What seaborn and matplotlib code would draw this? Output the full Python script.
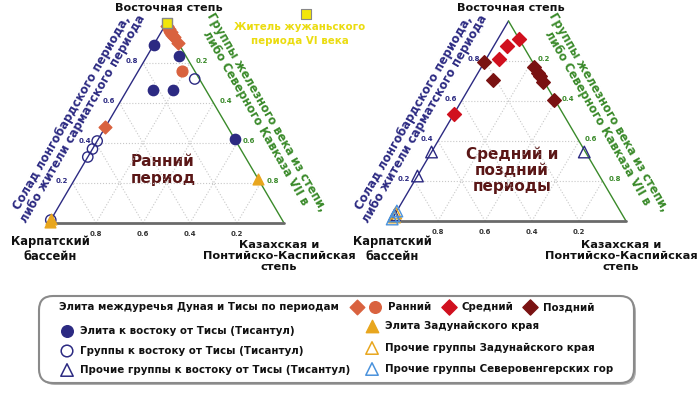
import numpy as np
import pandas as pd
import matplotlib.pyplot as plt
import seaborn as sns
from matplotlib.patches import FancyBboxPatch

sns.set_theme(style="white")
plt.rcParams['font.family'] = ['DejaVu Sans']

# ==============================================================
# DATA  (top = Восточная степь, right = Казахская / Понтийско-Каспийская степь,
#        the rest = Карпатский бассейн)
# ==============================================================

# --- early period panel
early_diamond_top = [0.985, 0.97, 0.955, 0.94, 0.93, 0.90, 0.48]
early_diamond_right = [0.01, 0.025, 0.04, 0.055, 0.065, 0.10, 0.0]
early_circle_top = [0.965, 0.76]
early_circle_right = [0.03, 0.185]
east_elite_top = [0.89, 0.835, 0.665, 0.665, 0.42]
east_elite_right = [0.0, 0.135, 0.11, 0.195, 0.58]
east_groups_top = [0.72, 0.41, 0.37, 0.33, 0.015]
east_groups_right = [0.26, 0.0, 0.0, 0.0, 0.0]
trans_elite_top = [0.22, 0.005, 0.02]
trans_elite_right = [0.78, 0.0, 0.0]
zhuzhan_top = [1.0]
zhuzhan_right = [0.0]

# --- middle / late period panel
middle_top = [0.91, 0.875, 0.81, 0.535]
middle_right = [0.09, 0.055, 0.055, 0.0]
late_top = [0.795, 0.705, 0.77, 0.74, 0.725, 0.695, 0.605]
late_right = [0.0, 0.08, 0.225, 0.255, 0.27, 0.30, 0.39]
east_other_top = [0.345, 0.225, 0.345, 0.03]
east_other_right = [0.0, 0.0, 0.65, 0.0]
trans_other_top = [0.04, 0.02]
trans_other_right = [0.0, 0.005]
north_hu_top = [0.01, 0.05, 0.025]
north_hu_right = [0.0, 0.0, 0.0]

tick_values = [0.2, 0.4, 0.6, 0.8]

# colours
NAVY = "#2c2a82"
GREEN = "#3a8a2a"
EARLY = "#d9623f"
MIDDLE = "#d0101e"
LATE = "#7a1212"
GOLD = "#e8a61e"
LBLUE = "#4a92dc"
YELLOW = "#f2e60a"
MAROON = "#5a1616"


def to_xy(top, right):
    top = np.asarray(top, dtype=float)
    right = np.asarray(right, dtype=float)
    return pd.DataFrame({"x": right + top / 2, "y": top})


# (top, right, marker, size, face, edge)
early_groups = [
    (east_groups_top, east_groups_right, "o", 55, "none", NAVY),
    (trans_elite_top, trans_elite_right, "^", 60, GOLD, GOLD),
    (east_elite_top, east_elite_right, "o", 55, NAVY, NAVY),
    (early_diamond_top, early_diamond_right, "D", 42, EARLY, EARLY),
    (early_circle_top, early_circle_right, "o", 60, EARLY, EARLY),
    (zhuzhan_top, zhuzhan_right, "s", 60, YELLOW, "#888888"),
]
late_groups = [
    (east_other_top, east_other_right, "^", 70, "none", NAVY),
    (trans_other_top, trans_other_right, "^", 70, "none", GOLD),
    (north_hu_top, north_hu_right, "^", 70, "none", LBLUE),
    (late_top, late_right, "D", 48, LATE, LATE),
    (middle_top, middle_right, "D", 50, MIDDLE, MIDDLE),
]

W, H = 700, 394
fig = plt.figure(figsize=(W / 100, H / 100), dpi=100)
canvas = fig.add_axes([0, 0, 1, 1])
canvas.set_xlim(0, W)
canvas.set_ylim(H, 0)
canvas.axis("off")


def draw_triangle(x0, ybase, groups):
    ax = fig.add_axes([x0 / W, (H - ybase) / H, 235 / W, 200 / H])
    ax.set_xlim(0, 1)
    ax.set_ylim(0, 1)
    ax.axis("off")
    ax.patch.set_alpha(0)
    # grid
    for k in tick_values:
        ax.plot([k / 2, 1 - k / 2], [k, k], ls=":", color="#c8c8c8", lw=0.8)
        ax.plot([k, k + (1 - k) / 2], [0, 1 - k], ls=":", color="#c8c8c8", lw=0.8)
        ax.plot([1 - k, (1 - k) / 2], [0, 1 - k], ls=":", color="#c8c8c8", lw=0.8)
    # edges
    ax.plot([0, 0.5], [0, 1], color=NAVY, lw=1.0, clip_on=False)
    ax.plot([0.5, 1], [1, 0], color=GREEN, lw=1.0, clip_on=False)
    ax.plot([0, 1], [0, 0], color="#6a6a6a", lw=2.0, clip_on=False)
    # tick labels
    for k in tick_values:
        ax.annotate(f"{k:.1f}", (k / 2, k), xytext=(-11, 2), textcoords="offset pixels",
                    ha="center", va="center", fontsize=5, fontweight="bold", color=NAVY)
        ax.annotate(f"{1 - k:.1f}", (1 - k / 2, k), xytext=(12, 2), textcoords="offset pixels",
                    ha="center", va="center", fontsize=5, fontweight="bold", color=GREEN)
        ax.annotate(f"{1 - k:.1f}", (k, 0), xytext=(0, -11), textcoords="offset pixels",
                    ha="center", va="center", fontsize=5, fontweight="bold", color="#333333")
    for top, right, m, s, fc, ec in groups:
        d = to_xy(top, right)
        sns.scatterplot(data=d, x="x", y="y", ax=ax, marker=m, s=s, color=ec,
                        facecolor=fc, edgecolor=ec, linewidth=1.0, clip_on=False,
                        zorder=3, legend=False)
    ax.set_xlabel("")
    ax.set_ylabel("")
    return ax


draw_triangle(49, 223, early_groups)
draw_triangle(391, 221, late_groups)

# ---------- panel texts
bold = dict(fontweight="bold", ha="center", va="center")
for dx in (0, 342):
    canvas.text(169 + dx, 8, "Восточная степь", fontsize=8.1, color="#111111", **bold)
    canvas.text(50 + dx, 249, "Карпатский\nбассейн", fontsize=8.3, color="#111111",
                linespacing=1.2, **bold)
    canvas.text(279 + dx, 256, "Казахская и\nПонтийско-Каспийская\nстепь", fontsize=8.2,
                color="#111111", linespacing=1.15, **bold)
    canvas.text(77 + dx, 116, "Солад лонгобардского периода,\nлибо жители сарматского периода",
                fontsize=8.4, color=NAVY, rotation=60, rotation_mode="anchor",
                linespacing=1.0, **bold)
    canvas.text(261 + dx, 115, "Группы железного века из степи,\nлибо Северного Кавказа VII в",
                fontsize=8.4, color=GREEN, rotation=-60, rotation_mode="anchor",
                linespacing=1.0, **bold)

canvas.text(163, 170, "Ранний\nпериод", fontsize=11, color=MAROON, linespacing=1.1, **bold)
canvas.text(512, 170, "Средний и\nпоздний\nпериоды", fontsize=11, color=MAROON,
            linespacing=1.1, **bold)

canvas.scatter([306], [14], marker="s", s=45, color=YELLOW, edgecolor="#888888", lw=0.8)
canvas.text(300, 34, "Житель жужаньского\nпериода VI века", fontsize=7.4, color="#ebdc10",
            linespacing=1.45, **bold)

# ---------- legend box
shadow = FancyBboxPatch((41, 298), 595, 87, boxstyle="round,pad=0,rounding_size=14",
                        fc="#b0b0b0", ec="none", zorder=1)
box = FancyBboxPatch((39, 296), 595, 87, boxstyle="round,pad=0,rounding_size=14",
                     fc="white", ec="#8a8a8a", lw=1.5, zorder=2)
canvas.add_patch(shadow)
canvas.add_patch(box)

lt = dict(fontsize=7.4, fontweight="bold", color="#111111", va="center", ha="left", zorder=4)
canvas.text(59, 307, "Элита междуречья Дуная и Тисы по периодам", **lt)
canvas.scatter([357], [307], marker="D", s=55, color=EARLY, zorder=4)
canvas.scatter([375], [307], marker="o", s=70, color=EARLY, zorder=4)
canvas.text(388, 307, "Ранний", **lt)
canvas.scatter([449], [307], marker="D", s=60, color=MIDDLE, zorder=4)
canvas.text(462, 307, "Средний", **lt)
canvas.scatter([530], [307], marker="D", s=60, color=LATE, zorder=4)
canvas.text(543, 307, "Поздний", **lt)

canvas.scatter([67], [331], marker="o", s=70, color=NAVY, zorder=4)
canvas.text(80, 331, "Элита к востоку от Тисы (Тисантул)", **lt)
canvas.scatter([67], [351], marker="o", s=70, fc="none", ec=NAVY, lw=1.1, zorder=4)
canvas.text(80, 351, "Группы к востоку от Тисы (Тисантул)", **lt)
canvas.scatter([67], [370], marker="^", s=80, fc="none", ec=NAVY, lw=1.1, zorder=4)
canvas.text(80, 370, "Прочие группы к востоку от Тисы (Тисантул)", **lt)

canvas.scatter([372], [326], marker="^", s=80, color=GOLD, zorder=4)
canvas.text(385, 326, "Элита Задунайского края", **lt)
canvas.scatter([372], [348], marker="^", s=80, fc="none", ec=GOLD, lw=1.1, zorder=4)
canvas.text(385, 348, "Прочие группы Задунайского края", **lt)
canvas.scatter([372], [369], marker="^", s=80, fc="none", ec=LBLUE, lw=1.1, zorder=4)
canvas.text(385, 369, "Прочие группы Северовенгерских гор", **lt)

fig.savefig("out.png", dpi=100)
